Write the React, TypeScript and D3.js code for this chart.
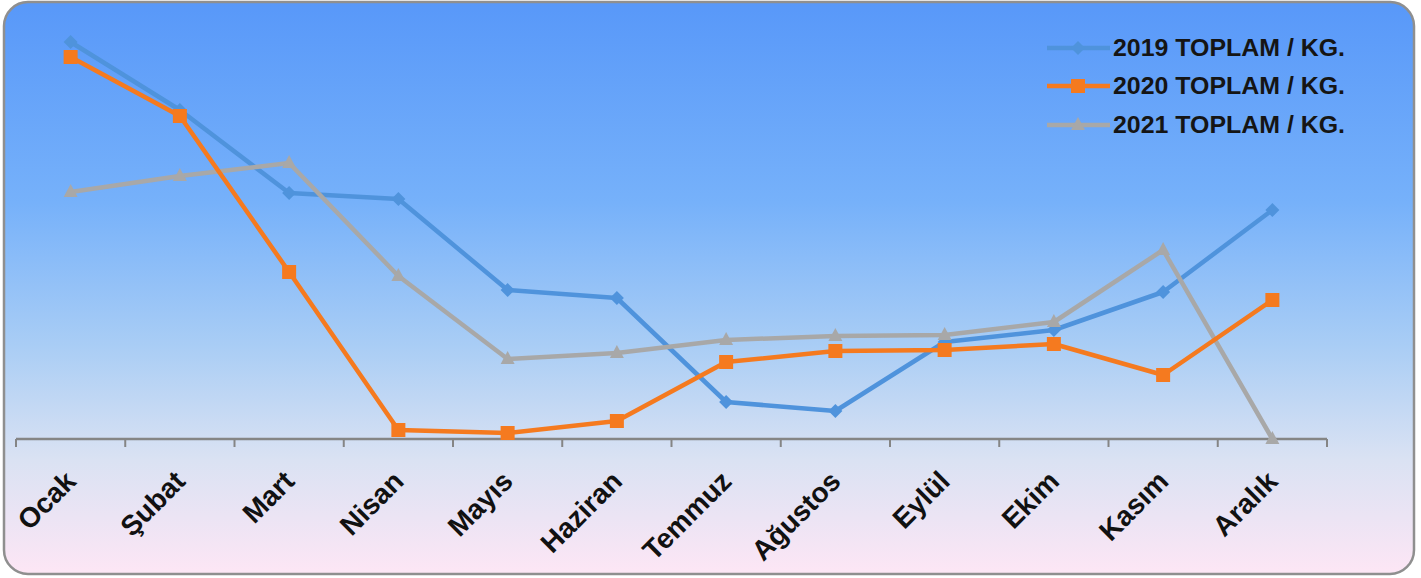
import React, { useEffect, useRef } from "react";
import * as d3 from "d3";

const months = ["Ocak", "Şubat", "Mart", "Nisan", "Mayıs", "Haziran", "Temmuz", "Ağustos", "Eylül", "Ekim", "Kasım", "Aralık"];
const seriesNames = ["2019 TOPLAM / KG.", "2020 TOPLAM / KG.", "2021 TOPLAM / KG."];
const values2019 = [39700, 32900, 24600, 24000, 14900, 14100, 3700, 2800, 9700, 10900, 14700, 22900];
const values2020 = [38200, 32300, 16700, 900, 600, 1800, 7700, 8800, 8900, 9500, 6400, 13900];
const values2021 = [24700, 26300, 27600, 16300, 8000, 8600, 9900, 10300, 10400, 11700, 18900, 0];
const seriesColors = ["#4f93dc", "#f57a1f", "#a8a8a8"];
const markerTypes = ["diamond", "square", "triangle"];

const W = 1421;
const H = 578;

export default function App() {
  const ref = useRef<SVGSVGElement>(null);

  useEffect(() => {
    const svg = d3.select(ref.current);
    svg.selectAll("*").remove();

    const defs = svg.append("defs");
    const grad = defs.append("linearGradient").attr("id", "bg").attr("x1", 0).attr("y1", 0).attr("x2", 0).attr("y2", 1);
    [
      [0, "#5898f9"],
      [0.35, "#76b1fa"],
      [0.6, "#a9cdf5"],
      [0.8, "#dae2f3"],
      [1, "#fde6f5"],
    ].forEach(([o, c]) => grad.append("stop").attr("offset", o as number).attr("stop-color", c as string));

    svg.append("rect")
      .attr("x", 4).attr("y", 2).attr("width", 1410).attr("height", 572)
      .attr("rx", 24).attr("ry", 24)
      .attr("fill", "url(#bg)")
      .attr("stroke", "#8f8f8f").attr("stroke-width", 2.5);

    const x = d3.scaleBand<string>().domain(months).range([16, 1327]);
    const y = d3.scaleLinear().domain([0, 40000]).range([439, 39]);

    // axis
    const axis = svg.append("g").attr("transform", `translate(0,439)`);
    axis.append("line").attr("x1", 16).attr("x2", 1327).attr("y1", 0).attr("y2", 0)
      .attr("stroke", "#858585").attr("stroke-width", 2.5);
    const tickPos = months.map((m) => x(m)!).concat([x(months[months.length - 1])! + x.bandwidth()]);
    axis.selectAll("line.tick").data(tickPos).enter().append("line")
      .attr("class", "tick")
      .attr("x1", (d) => d).attr("x2", (d) => d).attr("y1", 0).attr("y2", 8)
      .attr("stroke", "#858585").attr("stroke-width", 2);

    svg.append("g").selectAll("text").data(months).enter().append("text")
      .attr("transform", (d) => `translate(${x(d)! + x.bandwidth() / 2 + 7},483) rotate(-45)`)
      .attr("text-anchor", "end")
      .attr("font-family", "Liberation Sans, Arial, sans-serif")
      .attr("font-weight", "bold")
      .attr("font-size", 28)
      .attr("fill", "#111")
      .text((d) => d);

    const allSeries = [values2019, values2020, values2021];
    const line = d3.line<number>()
      .x((_, i) => x(months[i])! + x.bandwidth() / 2)
      .y((d) => y(d));

    const drawMarker = (g: any, type: string, cx: number, cy: number, color: string) => {
      if (type === "square") {
        g.append("rect").attr("x", cx - 7).attr("y", cy - 7).attr("width", 14).attr("height", 14).attr("fill", color);
      } else if (type === "diamond") {
        g.append("path").attr("d", `M${cx},${cy - 7}L${cx + 7},${cy}L${cx},${cy + 7}L${cx - 7},${cy}Z`).attr("fill", color);
      } else {
        g.append("path").attr("d", `M${cx},${cy - 8}L${cx + 7},${cy + 5}L${cx - 7},${cy + 5}Z`).attr("fill", color);
      }
    };

    const order = [0, 2, 1];
    order.forEach((si) => {
      const vals = allSeries[si];
      const g = svg.append("g");
      g.append("path").attr("d", line(vals)!).attr("fill", "none")
        .attr("stroke", seriesColors[si]).attr("stroke-width", 4.5).attr("stroke-linejoin", "round");
      vals.forEach((v, i) => drawMarker(g, markerTypes[si], x(months[i])! + x.bandwidth() / 2, y(v), seriesColors[si]));
    });

    // legend
    const legendYs = [48, 86, 125];
    seriesNames.forEach((name, si) => {
      const g = svg.append("g");
      const ly = legendYs[si];
      g.append("line").attr("x1", 1047).attr("x2", 1110).attr("y1", ly).attr("y2", ly)
        .attr("stroke", seriesColors[si]).attr("stroke-width", 4.5);
      drawMarker(g, markerTypes[si], 1078, ly, seriesColors[si]);
      g.append("text").attr("x", 1113).attr("y", ly + 8)
        .attr("font-family", "Liberation Sans, Arial, sans-serif")
        .attr("font-weight", "bold").attr("font-size", 23)
        .attr("textLength", 232).attr("lengthAdjust", "spacingAndGlyphs")
        .attr("fill", "#151515")
        .text(name);
    });
  }, []);

  return (
    <svg ref={ref} width={W} height={H} style={{ position: "absolute", left: 0, top: 0 }} />
  );
}
